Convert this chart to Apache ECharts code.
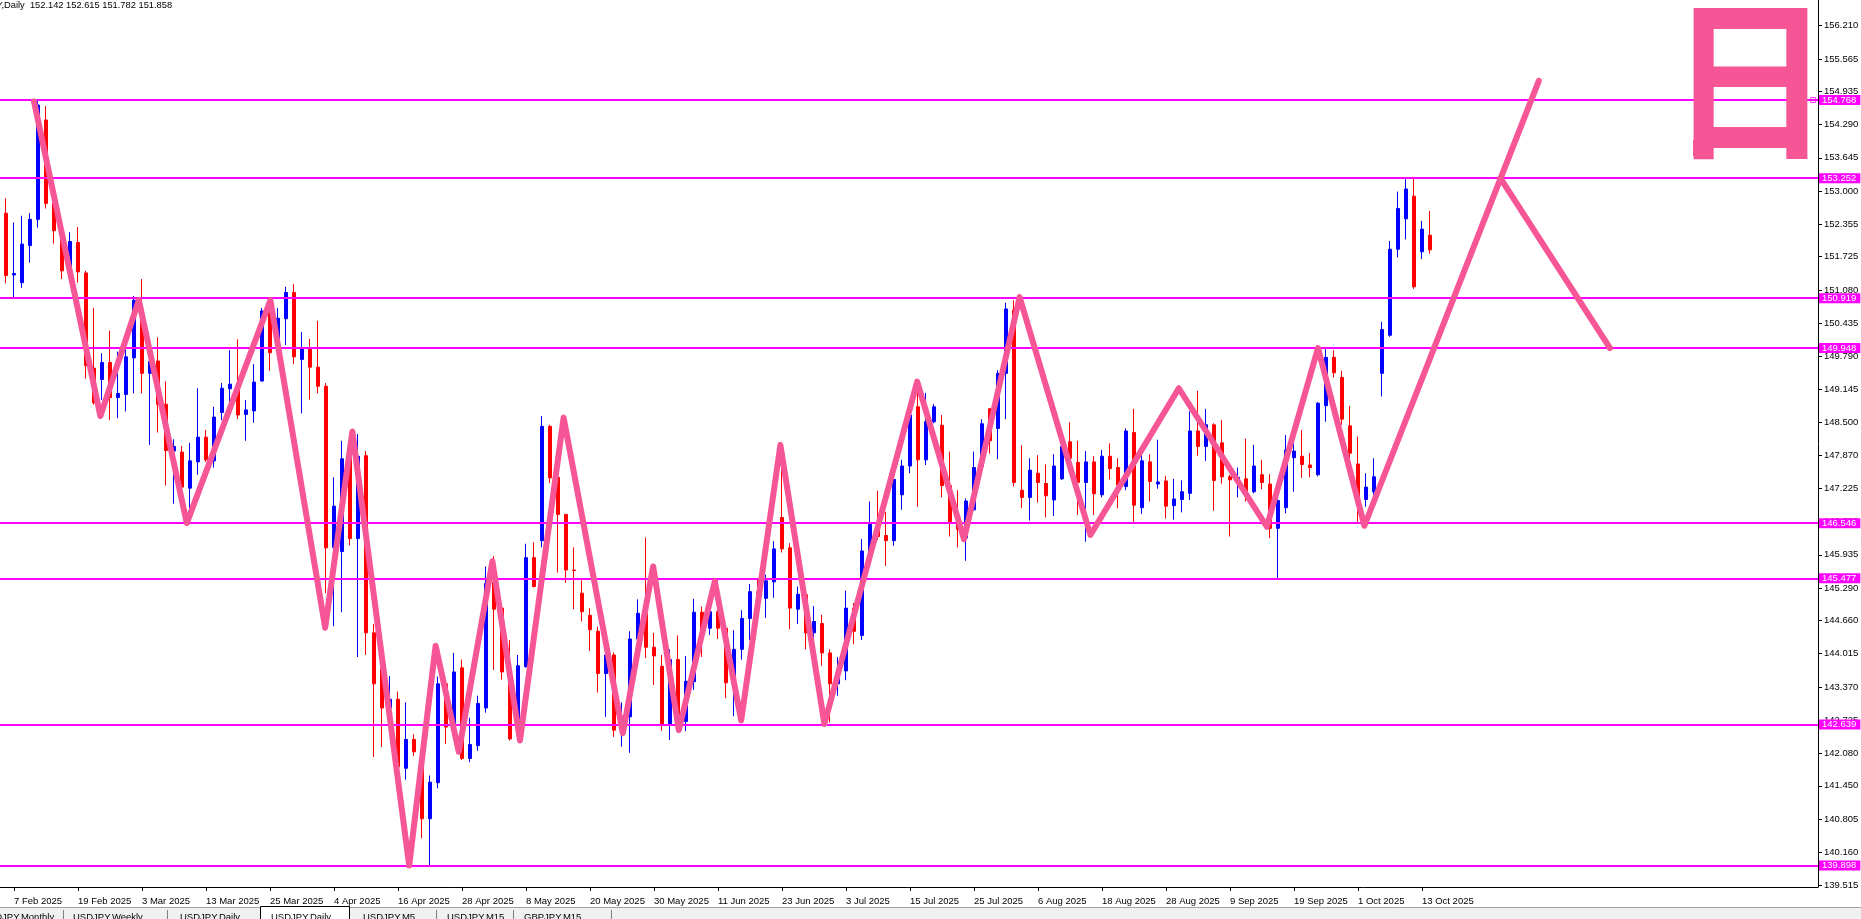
<!DOCTYPE html>
<html><head><meta charset="utf-8">
<script src="https://cdn.jsdelivr.net/npm/echarts@6/dist/echarts.min.js"></script>
<style>html,body{margin:0;padding:0;background:#fff;overflow:hidden}#c{width:1861px;height:919px}</style>
</head><body><div id="c"></div>
<script>
// ---------------- data ----------------
const firstDate = '2025-02-05';       // first (partly visible) daily bar
const futureSlots = 48;               // empty weekday slots right of the last bar
// daily candles [open, high, low, close], 5 Feb 2025 .. 14 Oct 2025
const candles = [
[154.30,154.45,152.35,152.60],[152.57,152.86,151.21,151.36],[151.37,152.39,150.92,151.40],[151.22,152.52,151.12,151.97],
[151.94,152.57,151.61,152.45],[152.45,154.76,152.29,154.67],[154.38,154.65,152.66,152.76],[152.76,152.80,151.98,152.23],
[152.20,152.25,151.29,151.45],[151.50,152.20,151.40,152.02],[152.00,152.30,151.22,151.43],[151.41,151.45,149.36,149.61],
[149.56,150.73,148.85,148.89],[149.34,149.85,148.94,149.67],[149.67,150.29,148.55,148.99],[148.99,149.88,148.59,149.07],
[149.05,149.98,148.72,149.78],[149.76,150.96,149.07,150.88],[150.70,151.29,149.07,149.46],[149.46,149.72,148.07,149.69],
[149.70,150.16,148.31,148.86],[148.86,149.30,147.28,147.96],[147.95,148.18,146.93,148.04],[147.93,148.05,147.10,147.25],
[147.23,148.11,146.54,147.76],[147.74,149.17,147.49,148.22],[148.22,148.36,147.74,147.78],[147.76,148.81,147.63,148.61],
[148.70,149.27,148.55,149.17],[149.16,149.91,148.81,149.25],[149.25,150.12,148.57,148.65],[148.66,148.94,148.15,148.75],
[148.73,149.64,148.50,149.29],[149.31,150.73,149.30,150.67],[150.69,150.88,149.51,149.86],[149.98,150.73,149.94,150.53],
[150.52,151.14,150.01,151.03],[151.03,151.19,149.64,149.78],[149.73,150.26,148.68,149.93],[149.93,150.13,148.95,149.58],
[149.58,150.48,149.07,149.21],[149.21,149.27,145.19,146.07],[146.08,147.44,144.55,146.88],[146.00,148.15,144.82,147.80],
[147.80,148.04,146.12,146.25],[146.25,148.28,143.95,147.85],[147.86,147.95,143.99,144.42],[144.42,144.59,142.01,143.43],
[143.72,143.82,142.20,142.96],[142.96,143.58,142.87,143.13],[143.13,143.28,141.61,141.82],[141.79,143.07,141.57,142.35],
[142.35,142.45,142.03,142.11],[142.06,142.20,140.43,140.81],[140.81,141.65,139.90,141.52],[141.51,143.57,141.40,143.43],
[143.43,143.45,142.26,142.59],[142.60,144.03,142.57,143.66],[143.74,143.90,141.95,141.98],[141.98,142.77,141.91,142.25],
[142.23,143.20,142.13,143.05],[142.96,145.71,142.87,145.38],[145.40,145.91,143.70,144.88],[144.90,144.95,143.51,143.66],
[143.66,144.28,142.33,142.36],[142.53,143.99,142.40,143.78],[143.76,146.15,143.75,145.88],[145.88,146.18,145.30,145.32],
[146.21,148.63,146.08,148.43],[148.43,148.46,147.33,147.43],[147.44,147.46,145.59,146.72],[146.72,146.73,145.39,145.64],
[145.64,146.08,144.88,145.63],[145.19,145.44,144.64,144.83],[144.76,144.90,144.07,144.48],[144.45,144.54,143.26,143.63],
[143.63,144.02,142.79,143.99],[143.99,144.04,142.40,142.53],[142.53,143.07,142.21,142.80],[142.79,144.45,142.09,144.30],
[144.30,145.07,144.22,144.80],[144.79,146.27,143.93,144.14],[144.14,144.42,143.41,143.97],[143.77,143.99,142.52,142.63],
[142.63,144.10,142.34,143.90],[143.90,144.37,142.53,142.60],[142.70,143.97,142.51,143.48],[143.47,145.08,143.31,144.82],
[144.82,144.93,143.95,144.42],[144.51,144.96,144.38,144.83],[144.83,145.44,144.30,144.51],[144.51,144.52,143.15,143.45],
[143.45,144.47,142.80,144.10],[144.10,144.86,143.90,144.70],[144.70,145.37,144.28,145.22],[145.22,145.45,144.80,145.09],
[145.09,145.55,144.71,145.43],[145.41,146.20,145.10,146.05],[146.66,148.03,145.98,146.05],[146.07,146.16,144.49,144.90],
[144.88,145.32,144.59,145.17],[145.16,145.18,144.10,144.42],[144.42,144.94,144.20,144.64],[144.60,144.77,143.78,144.03],
[144.03,144.10,142.68,143.43],[143.43,143.95,143.20,143.68],[143.68,145.24,143.50,144.90],[144.90,145.00,144.20,144.45],
[144.37,146.24,144.28,146.01],[146.00,146.97,145.92,146.53],[146.53,147.18,146.22,146.29],[146.31,146.77,145.72,146.21],
[146.21,147.45,146.11,147.40],[147.10,147.78,146.81,147.66],[147.66,148.75,147.52,148.65],[148.81,149.07,146.87,147.78],
[147.78,149.08,147.68,148.52],[148.52,148.86,148.49,148.81],[148.45,148.65,147.05,147.28],[147.28,147.94,146.29,146.58],
[146.58,147.19,146.08,146.43],[146.26,147.03,145.82,146.98],[146.81,147.94,146.79,147.63],[147.65,148.57,147.49,148.48],
[148.77,148.78,147.90,148.15],[148.39,149.52,147.79,149.46],[149.46,150.83,148.57,150.71],[150.69,150.88,147.26,147.34],
[147.19,148.06,146.84,147.05],[147.05,147.81,146.60,147.58],[147.52,147.87,146.95,147.34],[147.32,147.69,146.66,147.08],
[147.00,147.89,146.69,147.66],[147.41,148.17,147.39,148.04],[148.13,148.51,147.55,147.81],[147.73,148.15,146.71,147.34],
[147.34,147.95,146.19,147.74],[147.74,147.85,146.71,147.12],[147.10,147.97,147.05,147.85],[147.85,148.10,147.40,147.61],
[147.63,147.81,146.84,147.29],[147.26,148.39,147.19,148.34],[148.31,148.77,146.56,146.90],[146.85,147.91,146.73,147.76],
[147.74,147.89,146.97,147.36],[147.31,148.17,147.22,147.35],[147.37,147.47,146.64,146.88],[146.89,147.41,146.62,147.02],
[147.01,147.38,146.76,147.16],[147.13,148.72,147.00,148.34],[148.34,149.12,147.86,148.04],[148.04,148.77,147.76,148.46],
[148.46,148.49,146.79,147.38],[148.11,148.55,147.32,147.45],[147.45,147.49,146.29,147.39],[147.39,147.63,147.05,147.44],
[147.41,148.19,146.97,147.16],[147.16,148.07,147.13,147.66],[147.49,147.78,147.21,147.34],[147.31,147.50,146.26,146.45],
[146.45,147.03,145.48,146.99],[146.85,148.26,146.74,147.97],[147.82,148.13,147.16,147.95],[147.85,148.36,147.43,147.69],
[147.68,147.91,147.44,147.63],[147.49,148.90,147.46,148.88],[148.83,149.93,148.52,149.77],[149.77,149.91,149.38,149.47],
[149.38,149.51,148.46,148.57],[148.44,148.83,147.81,147.91],[147.70,148.23,146.56,146.90],[147.01,147.52,146.87,147.25],
[147.16,147.81,147.10,147.45],[149.46,150.46,149.01,150.31],[150.20,152.03,150.17,151.87],[151.87,152.99,151.71,152.66],
[152.46,153.23,152.06,153.04],[152.90,153.25,151.10,151.14],[151.82,152.42,151.68,152.26],[152.142,152.615,151.782,151.858]
];
// horizontal levels
const levels = [154.768, 153.252, 150.919, 149.948, 146.546, 145.477, 142.639, 139.898];
// price scale labels
const priceTicks = [139.515,140.160,140.805,141.450,142.080,142.725,143.370,144.015,144.660,145.290,145.935,146.580,
  147.225,147.870,148.500,149.145,149.790,150.435,151.080,151.725,152.355,153.000,153.645,154.290,154.935,155.565,156.210];
const priceMin = 139.484, priceMax = 156.710;
// hand drawn zig-zag: [bar offset from 7 Feb 2025, price]
const zigzag = [[2.5,154.74],[10.8,148.63],[15.6,150.88],[21.6,146.55],[32.05,150.88],[38.9,144.52],[42.3,148.33],
  [49.4,139.90],[52.7,144.17],[55.6,142.11],[59.8,145.81],[63.25,142.33],[68.7,148.60],[76.1,142.47],[79.9,145.71],
  [83.1,142.53],[87.6,145.42],[90.9,142.72],[95.8,148.07],[101.3,142.65],[112.9,149.30],[118.75,146.24],[125.7,150.94],
  [134.55,146.32],[145.6,149.17],[156.6,146.48],[163.0,149.95],[168.8,146.50],[190.6,155.14]];
const projection = [[185.8,153.25],[199.5,149.95]];
const handleMark = [[224.9,154.768]];
const lastPrice = 151.858;
const headerText = 'USDJPY,Daily  152.142 152.615 151.782 151.858';
const glyph = '日';
const tabs = [['USDJPY,Monthly',-18],['USDJPY,Weekly',73],['USDJPY,Daily',180],['USDJPY,Daily',271],['USDJPY,M5',363],['USDJPY,M15',447],['GBPJPY,M15',524]];

// ---------------- build ----------------
const MONTHS = ['Jan','Feb','Mar','Apr','May','Jun','Jul','Aug','Sep','Oct','Nov','Dec'];
const dates = [];
{
  const d = new Date(firstDate + 'T00:00:00Z');
  const total = candles.length + futureSlots;
  while (dates.length < total) {
    const wd = d.getUTCDay();
    if (wd !== 0 && wd !== 6) dates.push(d.getUTCDate() + ' ' + MONTHS[d.getUTCMonth()] + ' ' + d.getUTCFullYear());
    d.setUTCDate(d.getUTCDate() + 1);
  }
}
const OFFSET = 2; // 7 Feb is the third category
const lastLabelled = candles.length - 2;
const showIdx = (i) => { const k = i - OFFSET; return k >= 0 && k % 8 === 0 && i <= lastLabelled; };

const FONT = 'Liberation Sans';
const PINK = '#F65596';
const MAG = '#FF00FF';
const boxLabel = (bg) => ({show: true, position: 'end', distance: 1, backgroundColor: bg, color: '#fff',
  fontSize: 9.5, fontFamily: FONT, padding: [1, 4, 0, 3], lineHeight: 9});

const chart = echarts.init(document.getElementById('c'), null, {renderer: 'canvas'});
const option = {
  animation: false,
  backgroundColor: '#ffffff',
  grid: {left: -6, right: 43, top: 0, bottom: 32, containLabel: false, outerBoundsMode: 'none'},
  xAxis: [{
    type: 'category', data: dates, boundaryGap: true,
    axisLine: {show: true, onZero: false, lineStyle: {color: '#000', width: 1}},
    axisTick: {show: true, alignWithLabel: true, interval: showIdx, length: 4, lineStyle: {color: '#000'}},
    axisLabel: {interval: showIdx, align: 'left', margin: 9, color: '#000', fontSize: 9.5, fontFamily: FONT,
      formatter: (v) => v, showMinLabel: true, showMaxLabel: true, hideOverlap: false},
    splitLine: {show: false}
  }, {
    type: 'value', min: -0.5, max: dates.length - 0.5, show: false,
    axisLine: {show: false, onZero: false}, axisTick: {show: false}, axisLabel: {show: false}, splitLine: {show: false}
  }],
  yAxis: [{
    type: 'value', position: 'right', min: priceMin, max: priceMax, scale: true,
    axisLine: {show: true, onZero: false, lineStyle: {color: '#000', width: 1}},
    axisTick: {show: true, customValues: priceTicks, length: 4, lineStyle: {color: '#000'}},
    axisLabel: {customValues: priceTicks, formatter: (v) => Number(v).toFixed(3), margin: 6, color: '#000', fontSize: 9.5, fontFamily: FONT},
    splitLine: {show: false}, minorTick: {show: false}, minorSplitLine: {show: false}
  }],
  series: [
    {
      type: 'candlestick', xAxisIndex: 0, yAxisIndex: 0, z: 2,
      data: candles.map(([o, h, l, c]) => [o, c, l, h]),
      barWidth: 4,
      itemStyle: {color: '#0000FF', color0: '#FF0000', borderColor: '#0000FF', borderColor0: '#FF0000', borderColorDoji: '#0000FF', borderWidth: 1}
    },
    {
      type: 'line', xAxisIndex: 1, yAxisIndex: 0, data: [], z: 3, silent: true,
      markLine: {
        silent: true, symbol: ['none', 'none'], animation: false,
        lineStyle: {color: MAG, width: 2, type: 'solid'},
        label: boxLabel(MAG),
        emphasis: {disabled: true},
        data: levels.map((v) => ({yAxis: v, label: {formatter: v.toFixed(3)}}))
      }
    },
    {
      type: 'line', xAxisIndex: 1, yAxisIndex: 0, data: [], z: 3, silent: true,
      markLine: {
        silent: true, symbol: ['none', 'none'], animation: false,
        lineStyle: {color: '#000', width: 0, opacity: 0},
        label: boxLabel('#000'),
        emphasis: {disabled: true},
        data: [{yAxis: lastPrice, label: {formatter: lastPrice.toFixed(3)}}]
      }
    },
    {
      type: 'scatter', xAxisIndex: 1, yAxisIndex: 0, z: 4, silent: true,
      data: handleMark.map(([k, p]) => [k + OFFSET, p]),
      symbol: 'rect', symbolSize: 5,
      itemStyle: {color: '#fff', borderColor: MAG, borderWidth: 1}
    },
    {
      type: 'line', xAxisIndex: 1, yAxisIndex: 0, z: 5, silent: true, symbol: 'none',
      data: zigzag.map(([k, p]) => [k + OFFSET, p]),
      lineStyle: {color: PINK, width: 6, cap: 'round', join: 'round'}
    },
    {
      type: 'line', xAxisIndex: 1, yAxisIndex: 0, z: 5, silent: true, symbol: 'none',
      data: projection.map(([k, p]) => [k + OFFSET, p]),
      lineStyle: {color: PINK, width: 6, cap: 'round', join: 'round'}
    }
  ],
  graphic: [
    {type: 'text', x: -34, y: 5, z: 100, style: {text: headerText, font: '9.3px "Liberation Sans"', fill: '#000', textVerticalAlign: 'middle'}},
    {type: 'text', x: 1750, y: 79, scaleY: 1.068, z: 100, style: {text: glyph, font: 'bold 163px "Noto Sans CJK JP"', fill: PINK, textAlign: 'center', textVerticalAlign: 'middle'}},
    {type: 'rect', z: 100, shape: {x: 1693, y: 140, width: 20, height: 16}, style: {fill: PINK}},
    {type: 'rect', z: 100, shape: {x: 1787, y: 140, width: 20, height: 16}, style: {fill: PINK}},
    {type: 'rect', z: 100, shape: {x: 0, y: 907, width: 1861, height: 12}, style: {fill: '#F0F0F0', stroke: null}},
    {type: 'line', z: 101, shape: {x1: 0, y1: 907.5, x2: 1861, y2: 907.5}, style: {stroke: '#A0A0A0', lineWidth: 1}},
    {type: 'rect', z: 102, shape: {x: 260.5, y: 906.5, width: 89, height: 14}, style: {fill: '#FFFFFF', stroke: '#000', lineWidth: 1}}
  ].concat(tabs.map(([t, x]) => ({type: 'text', z: 103, x: x, y: 912, style: {text: t, font: '9.5px "Liberation Sans"', fill: '#000', textVerticalAlign: 'top'}})))
   .concat([63, 167, 436, 513, 611].map((x) => ({type: 'line', z: 103, shape: {x1: x + 0.5, y1: 910, x2: x + 0.5, y2: 919}, style: {stroke: '#808080', lineWidth: 1}})))
};
chart.setOption(option);
</script>
</body></html>
